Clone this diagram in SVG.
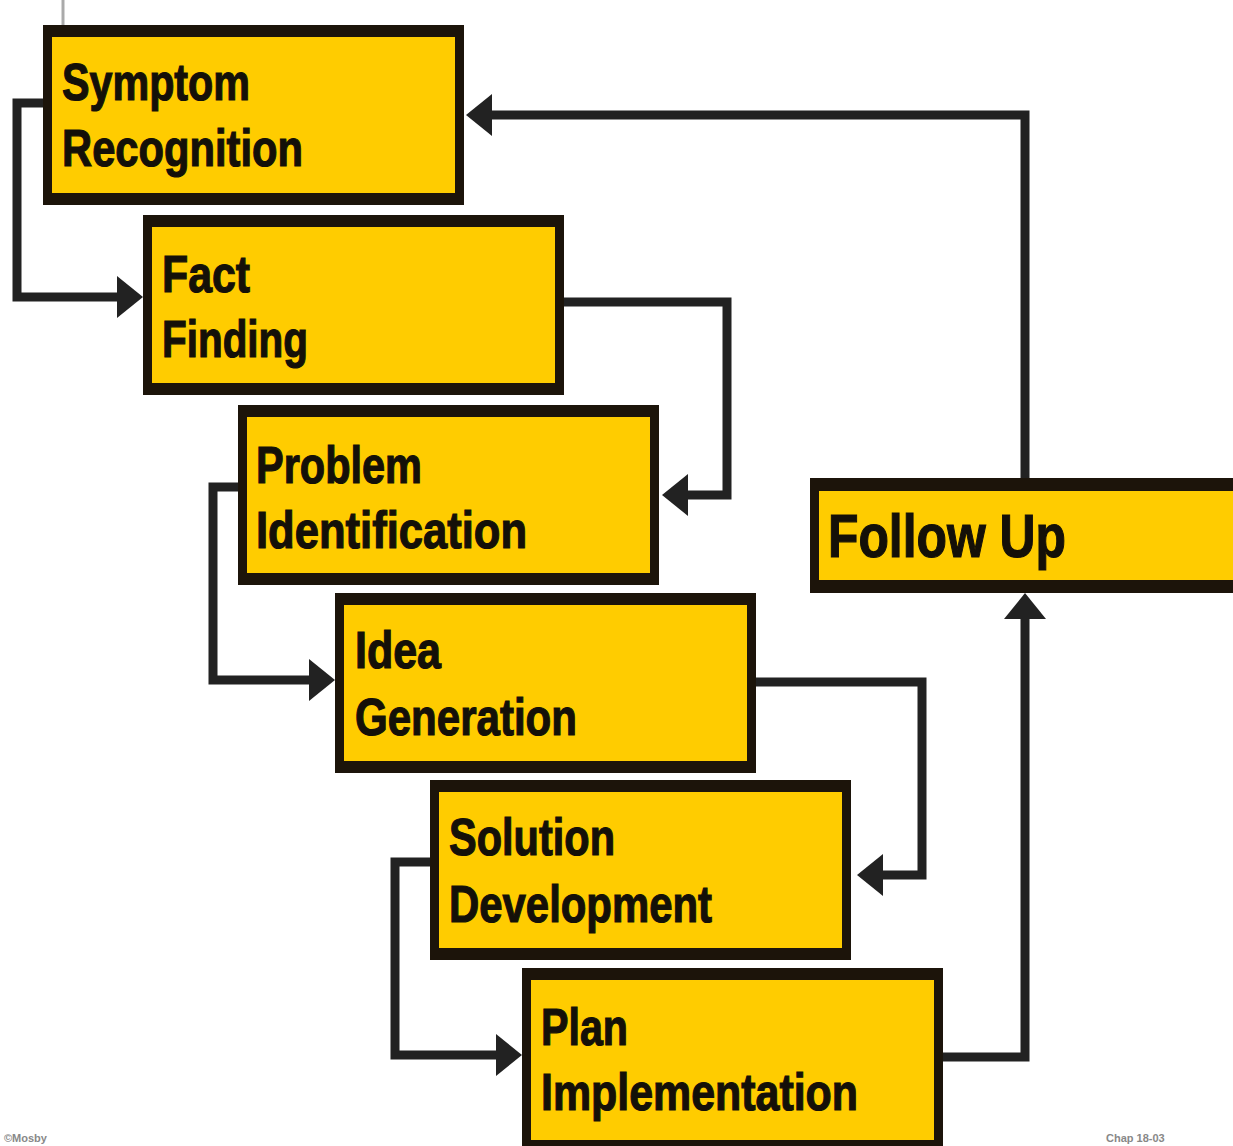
<svg xmlns="http://www.w3.org/2000/svg" width="1233" height="1146" viewBox="0 0 1233 1146">
<style>
.outer{fill:#1c140a}
.inner{fill:#ffcc00}
.lbl{font-family:"Liberation Sans",Arial,sans-serif;font-weight:bold;font-size:52px;fill:#141008;stroke:#141008;stroke-width:1.2}
.big{font-size:62px}
.conn{fill:none;stroke:#222;stroke-width:9;stroke-linejoin:miter}
.foot{font-family:"Liberation Sans",Arial,sans-serif;font-size:11px;fill:#888;font-weight:bold}
</style>
<defs>
<marker id="ah" markerUnits="userSpaceOnUse" markerWidth="28" markerHeight="42" viewBox="0 0 28 42" refX="11" refY="21" orient="auto">
<path d="M0,0 L26,21 L0,42 z" fill="#222"/>
</marker>
</defs>
<rect width="1233" height="1146" fill="#ffffff"/>
<line x1="63" y1="0" x2="63" y2="26" stroke="#aaa" stroke-width="3"/>
<g id="connectors">
<path class="conn" d="M43,103 H17 V297 H128" marker-end="url(#ah)"/>
<path class="conn" d="M564,302 H727 V495 H677" marker-end="url(#ah)"/>
<path class="conn" d="M238,487 H213 V680 H320" marker-end="url(#ah)"/>
<path class="conn" d="M756,682 H922 V875 H872" marker-end="url(#ah)"/>
<path class="conn" d="M430,862 H395 V1055 H507" marker-end="url(#ah)"/>
<path class="conn" d="M943,1057 H1025 V608" marker-end="url(#ah)"/>
<path class="conn" d="M1025,478 V115 H481" marker-end="url(#ah)"/>
</g>
<g id="symptom">
<rect class="outer" x="43" y="25" width="421" height="180"/>
<rect class="inner" x="52" y="37" width="403" height="156"/>
<text class="lbl" x="62" y="100" textLength="188" lengthAdjust="spacingAndGlyphs">Symptom</text>
<text class="lbl" x="62" y="166" textLength="241" lengthAdjust="spacingAndGlyphs">Recognition</text>
</g>
<g id="fact">
<rect class="outer" x="143" y="215" width="421" height="180"/>
<rect class="inner" x="152" y="227" width="403" height="156"/>
<text class="lbl" x="162" y="292" textLength="88" lengthAdjust="spacingAndGlyphs">Fact</text>
<text class="lbl" x="162" y="357" textLength="146" lengthAdjust="spacingAndGlyphs">Finding</text>
</g>
<g id="problem">
<rect class="outer" x="238" y="405" width="421" height="180"/>
<rect class="inner" x="247" y="417" width="403" height="156"/>
<text class="lbl" x="256" y="483" textLength="166" lengthAdjust="spacingAndGlyphs">Problem</text>
<text class="lbl" x="256" y="548" textLength="271" lengthAdjust="spacingAndGlyphs">Identification</text>
</g>
<g id="idea">
<rect class="outer" x="335" y="593" width="421" height="180"/>
<rect class="inner" x="344" y="605" width="403" height="156"/>
<text class="lbl" x="355" y="668" textLength="86" lengthAdjust="spacingAndGlyphs">Idea</text>
<text class="lbl" x="355" y="735" textLength="222" lengthAdjust="spacingAndGlyphs">Generation</text>
</g>
<g id="solution">
<rect class="outer" x="430" y="780" width="421" height="180"/>
<rect class="inner" x="439" y="792" width="403" height="156"/>
<text class="lbl" x="449" y="855" textLength="166" lengthAdjust="spacingAndGlyphs">Solution</text>
<text class="lbl" x="449" y="922" textLength="263" lengthAdjust="spacingAndGlyphs">Development</text>
</g>
<g id="plan">
<rect class="outer" x="522" y="968" width="421" height="184"/>
<rect class="inner" x="531" y="980" width="403" height="160"/>
<text class="lbl" x="541" y="1045" textLength="87" lengthAdjust="spacingAndGlyphs">Plan</text>
<text class="lbl" x="541" y="1110" textLength="317" lengthAdjust="spacingAndGlyphs">Implementation</text>
</g>
<g id="followup">
<rect class="outer" x="810" y="478" width="430" height="115"/>
<rect class="inner" x="819" y="491" width="421" height="89"/>
<text class="lbl big" x="828" y="557" textLength="238" lengthAdjust="spacingAndGlyphs">Follow Up</text>
</g>
<text class="foot" x="4" y="1142">©Mosby</text>
<text class="foot" x="1106" y="1142">Chap 18-03</text>
</svg>
